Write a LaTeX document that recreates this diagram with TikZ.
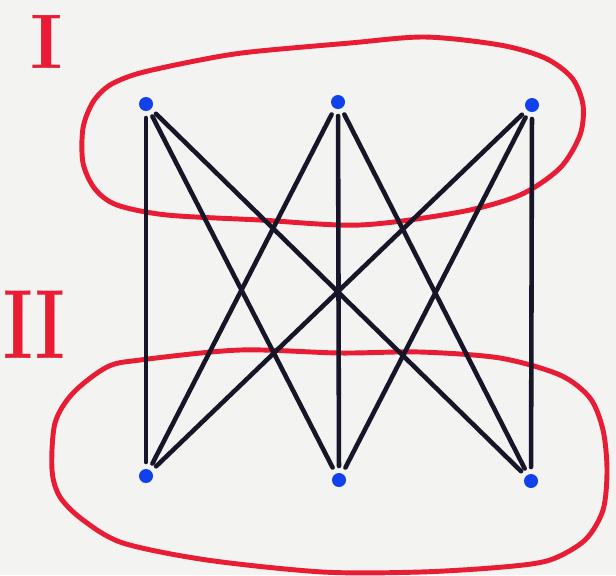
\documentclass[tikz,border=0pt]{standalone}
\usetikzlibrary{positioning}
\definecolor{paper}{RGB}{243,243,241}
\definecolor{markerred}{RGB}{232,28,52}
\definecolor{markerblue}{RGB}{18,64,235}
\definecolor{inkdark}{RGB}{22,22,40}

\begin{document}
\begin{tikzpicture}[x=0.01cm,y=-0.01cm,
  vertex/.style={circle,fill=markerblue,minimum size=0.14cm,inner sep=0pt,outer sep=0.07cm},
  edge/.style={inkdark,line width=1.3pt,line cap=round},
  setloop/.style={markerred,line width=1.4pt},
  numeral/.style={text=markerred,font=\fontsize{22}{22}\selectfont\bfseries}]
  \useasboundingbox (0,0) rectangle (616,575);
  \fill[paper] (0,0) rectangle (616,575);

  % the two sets
  \draw[setloop] plot[smooth cycle,tension=0.5] coordinates
    {(250,52) (350,43) (425,37) (500,45) (545,58) (572,78) (583,105)
     (580,135) (560,168) (520,195) (460,212) (360,225) (260,220)
     (167,215) (117,205) (95,189) (83,163) (83,128) (93,102) (110,85)
     (140,73) (200,60)};
  \draw[setloop] plot[smooth cycle,tension=0.5] coordinates
    {(240,350) (340,353) (420,352) (500,358) (560,375) (590,398) (603,430)
     (607,470) (603,510) (585,540) (550,560) (503,567) (420,572) (323,572)
     (207,560) (123,543) (83,520) (60,497) (52,470) (55,423) (73,393)
     (107,367) (140,360)};

  \node[numeral] (one) at (47,42) {I};
  \node[numeral,font=\fontsize{28}{28}\selectfont\bfseries]
    (two) at (34,325) {\scalebox{0.72}[1]{II}};

  % vertices
  \node[vertex] (t1) at (146,104) {};
  \node[vertex] (t2) at (338,102) {};
  \node[vertex] (t3) at (532,105) {};
  \node[vertex] (b1) at (146,476) {};
  \node[vertex] (b2) at (339,480) {};
  \node[vertex] (b3) at (531,481) {};

  \foreach \u in {t1,t2,t3}
    \foreach \v in {b1,b2,b3}
      \draw[edge] (\u) -- (\v);
\end{tikzpicture}
\end{document}
